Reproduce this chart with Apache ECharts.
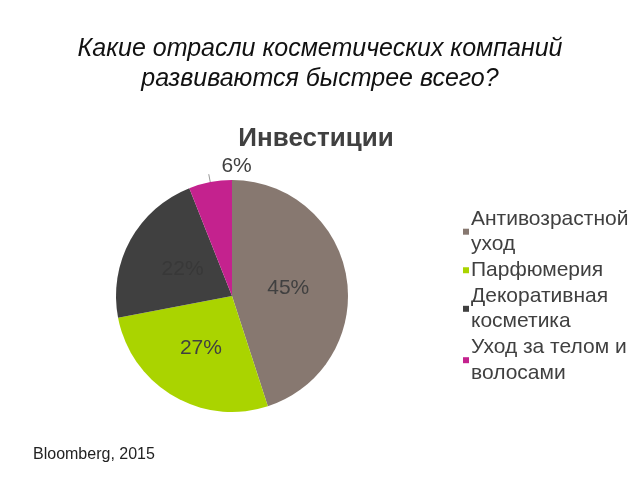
<!DOCTYPE html>
<html><head><meta charset="utf-8">
<script src="https://cdn.jsdelivr.net/npm/echarts@6/dist/echarts.min.js"></script>
<style>html,body{margin:0;padding:0;background:#fff}#c{width:640px;height:480px}</style>
</head><body><div id="c"></div>
<script>
const categories = ['Антивозрастной\nуход', 'Парфюмерия', 'Декоративная\nкосметика', 'Уход за телом и\nволосами'];
const values = [45, 27, 22, 6];
const colors = ['#877870', '#aad400', '#404040', '#c4228e'];
const labelShift = [[-4, 2], [0, 0], [4, 3], [48, -8]];

const chart = echarts.init(document.getElementById('c'), null, {renderer: 'canvas'});
const data = categories.map((n, i) => ({
  name: n, value: values[i],
  itemStyle: {color: colors[i]},
  label: i === 3 ? {position: 'outside', color: '#404040'} : {position: 'inside', color: i === 2 ? '#383838' : '#404040'},
  labelLine: i === 3 ? {show: true, length: 8, length2: 0, lineStyle: {color: '#999', width: 1}} : {show: false}
}));
chart.setOption({
  animation: false,
  title: [
    {text: 'Какие отрасли косметических компаний\nразвиваются быстрее всего?', left: 'center', top: 34, padding: 0,
     textStyle: {fontFamily: 'Liberation Sans, Arial', fontStyle: 'italic', fontWeight: 'normal', fontSize: 25, lineHeight: 30, color: '#111'}},
    {text: 'Инвестиции', left: 316, textAlign: 'center', top: 126, padding: 0,
     textStyle: {fontFamily: 'Liberation Sans, Arial', fontWeight: 'bold', fontSize: 26, color: '#404040'}},
    {text: 'Bloomberg, 2015', left: 33, top: 447, padding: 0,
     textStyle: {fontFamily: 'Liberation Sans, Arial', fontWeight: 'normal', fontSize: 16, color: '#222'}}
  ],
  legend: {
    orient: 'vertical', left: 458, top: 201, itemWidth: 6, itemHeight: 6, itemGap: 0,
    icon: 'rect',
    textStyle: {fontFamily: 'Liberation Sans, Arial', fontSize: 21, lineHeight: 25.7, color: '#404040', padding: [0, 0, 0, -3]},
    data: categories
  },
  series: [{
    type: 'pie', center: [232, 296], radius: 116, startAngle: 90, clockwise: true,
    label: {show: true, formatter: '{c}%', fontFamily: 'Liberation Sans, Arial', fontSize: 21},
    labelLayout: function (p) { const s = labelShift[p.dataIndex]; return {dx: s[0], dy: s[1]}; },
    emphasis: {disabled: true},
    data: data
  }]
});
</script></body></html>
